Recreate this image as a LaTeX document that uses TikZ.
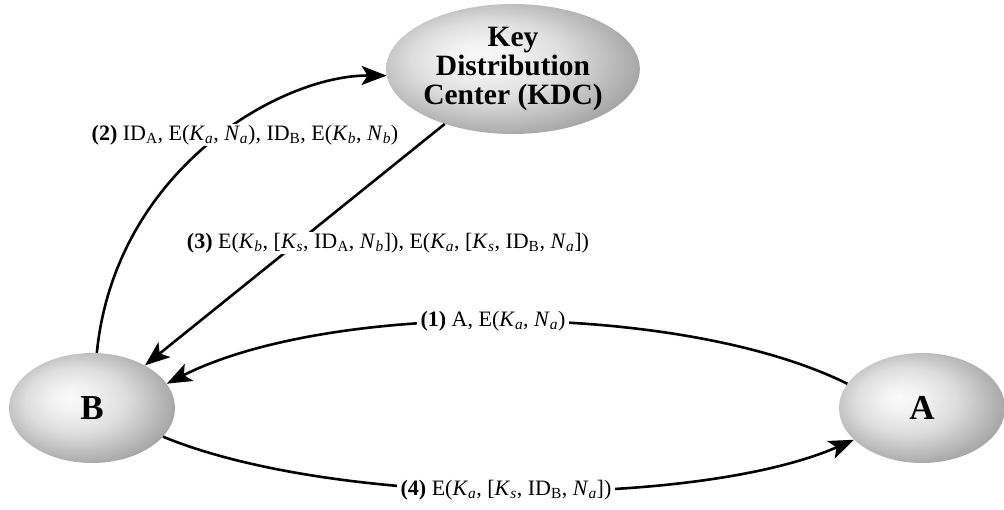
\documentclass[tikz,border=0pt]{standalone}
\usepackage{fontspec}
\setmainfont{Liberation Serif}
\usetikzlibrary{arrows.meta,shapes.geometric}
\pgfdeclareradialshading{ellshade}{\pgfpoint{-7bp}{5bp}}{color(0bp)=(black!2); color(6bp)=(black!5); color(15bp)=(black!13); color(23bp)=(black!26); color(29bp)=(black!36); color(50bp)=(black!40)}
\newcommand{\kv}[2]{\textit{#1}\textsubscript{\textit{#2}}}
\newcommand{\idx}[1]{ID\textsubscript{#1}}
\begin{document}
\begin{tikzpicture}[x=1pt,y=-1pt,
  party/.style={ellipse, shading=ellshade, inner sep=0pt, minimum width=166pt, minimum height=110pt, font=\fontsize{35}{35}\selectfont\bfseries},
  kdcnode/.style={ellipse, shading=ellshade, inner sep=0pt, minimum width=178pt, minimum height=130pt, align=center, font=\fontsize{29.5}{29}\selectfont\bfseries},
  msg/.style={fill=white, inner xsep=4pt, inner ysep=1pt, font=\fontsize{22}{24}\selectfont},
  flow/.style={line width=2.6pt, -{Stealth[length=25pt,width=19pt,inset=6pt]}},
]
\useasboundingbox (0,0) rectangle (1004,510);
\node[kdcnode] (kdc) at (513,69) {Key\\Distribution\\Center (KDC)};
\node[party] (b) at (92,408) {B};
\node[party] (a) at (922,408) {A};

\draw[flow] (b.85) .. controls (115,170) and (280,75) .. (kdc.183);
\draw[flow] (kdc) -- (b);
\draw[flow] (a.162) .. controls (680,301) and (330,301) .. (b.18);
\draw[flow] (b.338) .. controls (336,508) and (698,508) .. (a.205);

\node[msg] (l2) at (245,135) {\textbf{(2)} \idx{A}, E(\kv{K}{a}, \kv{N}{a}), \idx{B}, E(\kv{K}{b}, \kv{N}{b})};
\node[msg] (l3) at (388,243) {\textbf{(3)} E(\kv{K}{b}, [\kv{K}{s}, \idx{A}, \kv{N}{b}]), E(\kv{K}{a}, [\kv{K}{s}, \idx{B}, \kv{N}{a}])};
\node[msg] (l1) at (493,321) {\textbf{(1)} A, E(\kv{K}{a}, \kv{N}{a})};
\node[msg] (l4) at (506,490) {\textbf{(4)} E(\kv{K}{a}, [\kv{K}{s}, \idx{B}, \kv{N}{a}])};
\end{tikzpicture}
\end{document}
